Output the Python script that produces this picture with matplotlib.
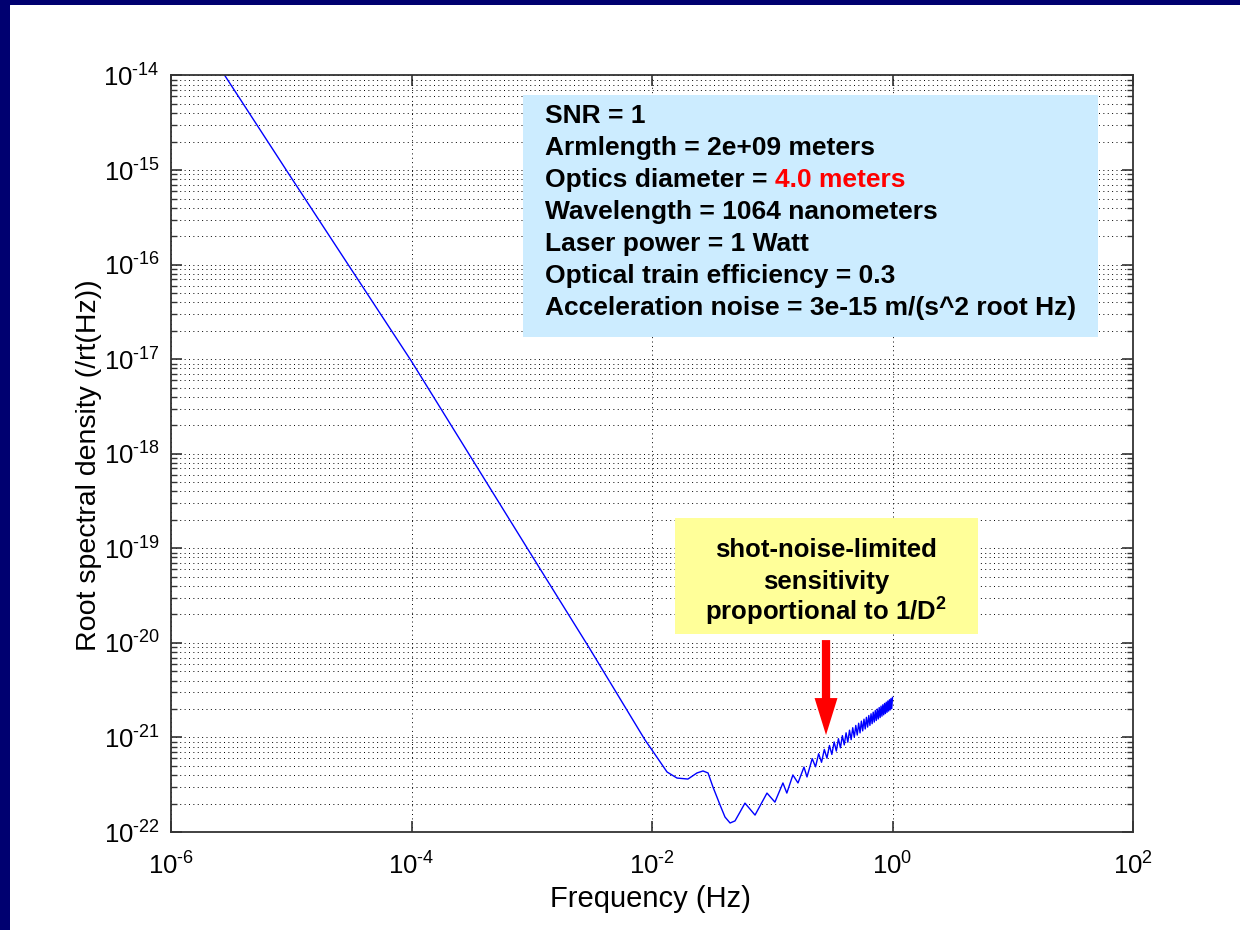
import matplotlib
matplotlib.use("Agg")
import matplotlib.pyplot as plt
from matplotlib.patches import Rectangle
from matplotlib.ticker import LogLocator, NullLocator, FixedLocator, FixedFormatter, NullFormatter

plt.rcParams['font.family'] = ['Liberation Sans', 'DejaVu Sans']
plt.rcParams['mathtext.fontset'] = 'custom'
plt.rcParams['mathtext.rm'] = 'Liberation Sans'
plt.rcParams['mathtext.bf'] = 'Liberation Sans:bold'
plt.rcParams['mathtext.default'] = 'regular'

# ---- data ----
# low-frequency part of the sensitivity curve (Hz, 1/rtHz)
freq_low = [1e-6, 1e-5, 1e-4, 1e-3, 3e-3, 8.75e-3, 1.0e-2, 1.334e-2, 1.614e-2,
            1.99e-2, 2.366e-2, 2.655e-2, 2.924e-2, 3.214e-2, 3.681e-2, 4.046e-2,
            4.46e-2, 4.90e-2, 5.40e-2, 5.93e-2, 7.19e-2, 9.04e-2, 1.052e-1,
            1.227e-1, 1.322e-1, 1.485e-1, 1.637e-1, 1.836e-1, 1.945e-1]
asd_low = [7.5e-14, 8.3e-16, 9.5e-18, 8.4e-20, 8.9e-21, 9.4e-22, 7.36e-22, 4.31e-22, 3.72e-22,
           3.63e-22, 4.21e-22, 4.42e-22, 4.21e-22, 2.99e-22, 1.93e-22, 1.44e-22,
           1.245e-22, 1.31e-22, 1.63e-22, 2.02e-22, 1.51e-22, 2.58e-22, 2.07e-22,
           3.30e-22, 2.58e-22, 4.01e-22, 3.30e-22, 4.86e-22, 3.82e-22]

# dense ripple above 0.2 Hz: peaks and troughs
peak_freq = [0.215, 0.243, 0.271, 0.299, 0.327, 0.355, 0.383, 0.411, 0.439, 0.467,
             0.495, 0.523, 0.551, 0.579, 0.607, 0.635, 0.663, 0.691, 0.719, 0.747,
             0.775, 0.803, 0.831, 0.859, 0.887, 0.915, 0.943, 0.971, 1.0]
peak_asd = [5.97e-22, 6.72e-22, 7.46e-22, 8.22e-22, 8.96e-22, 9.70e-22, 1.045e-21, 1.119e-21,
            1.193e-21, 1.267e-21, 1.340e-21, 1.413e-21, 1.487e-21, 1.560e-21, 1.633e-21,
            1.706e-21, 1.778e-21, 1.851e-21, 1.924e-21, 1.997e-21, 2.070e-21, 2.144e-21,
            2.216e-21, 2.288e-21, 2.360e-21, 2.431e-21, 2.503e-21, 2.576e-21, 2.65e-21]
trough_freq = [0.229, 0.257, 0.285, 0.313, 0.341, 0.369, 0.397, 0.425, 0.453, 0.481,
               0.509, 0.537, 0.565, 0.593, 0.621, 0.649, 0.677, 0.705, 0.733, 0.761,
               0.789, 0.817, 0.845, 0.873, 0.901, 0.929, 0.957, 0.985]
trough_asd = [4.89e-22, 5.46e-22, 6.04e-22, 6.61e-22, 7.18e-22, 7.76e-22, 8.33e-22, 8.90e-22,
              9.47e-22, 1.004e-21, 1.060e-21, 1.117e-21, 1.173e-21, 1.229e-21, 1.286e-21,
              1.341e-21, 1.397e-21, 1.453e-21, 1.510e-21, 1.566e-21, 1.622e-21, 1.679e-21,
              1.734e-21, 1.789e-21, 1.845e-21, 1.900e-21, 1.955e-21, 2.012e-21]

xtick_vals = [1e-6, 1e-4, 1e-2, 1e0, 1e2]
xtick_exps = ['-6', '-4', '-2', '0', '2']
ytick_vals = [1e-22, 1e-21, 1e-20, 1e-19, 1e-18, 1e-17, 1e-16, 1e-15, 1e-14]
ytick_exps = ['-22', '-21', '-20', '-19', '-18', '-17', '-16', '-15', '-14']

info_lines = ["SNR = 1", "Armlength = 2e+09 meters", "Optics diameter =",
              "Wavelength = 1064 nanometers", "Laser power = 1 Watt",
              "Optical train efficiency = 0.3",
              "Acceleration noise = 3e-15 m/(s^2 root Hz)"]
info_red = "4.0 meters"
note_lines = ["shot-noise-limited", "sensitivity",
              "proportional to 1/D$^{\\mathbf{2}}$"]

# merge the ripple points in frequency order
hi = sorted(zip(peak_freq + trough_freq, peak_asd + trough_asd))
freq = freq_low + [p[0] for p in hi]
asd = asd_low + [p[1] for p in hi]


def pow_label(e):
    # MATLAB style: plain hyphen in the exponent
    return '$10^{\\text{' + e + '}}$'


fig = plt.figure(figsize=(12.4, 9.3), dpi=100, facecolor='#000070')
bg = fig.add_axes([10 / 1240, 0, 1230 / 1240, 925 / 930])
bg.set_axis_off()
bg.add_patch(Rectangle((0, 0), 1, 1, color='white', transform=bg.transAxes))

ax = fig.add_axes([171 / 1240, 98 / 930, 962 / 1240, 756.5 / 930])
ax.plot(freq, asd, color='#0000ff', lw=1.0)
ax.set_xscale('log')
ax.set_yscale('log')
ax.set_xlim(1e-6, 1e2)
ax.set_ylim(1e-22, 1e-14)

ax.xaxis.set_major_locator(FixedLocator(xtick_vals))
ax.xaxis.set_major_formatter(FixedFormatter([pow_label(e) for e in xtick_exps]))
ax.xaxis.set_minor_locator(NullLocator())
ax.yaxis.set_major_locator(FixedLocator(ytick_vals))
ax.yaxis.set_major_formatter(FixedFormatter([pow_label(e) for e in ytick_exps]))
ax.yaxis.set_minor_locator(LogLocator(base=10, subs=range(2, 10), numticks=50))
ax.yaxis.set_minor_formatter(NullFormatter())

ax.grid(which='major', axis='both', color='k', ls=(0, (1, 3.5)), lw=0.7)
ax.grid(which='minor', axis='y', color='k', ls=(0, (1, 3.5)), lw=0.7)
ax.tick_params(which='both', direction='in', top=True, right=True, colors='#333333',
               labelcolor='k', labelsize=18.5)
ax.tick_params(which='major', length=8, width=1.2, pad=8)
ax.tick_params(axis='x', which='major', pad=15)
ax.tick_params(which='minor', length=4, width=1)
for s in ax.spines.values():
    s.set_color('#333333')
    s.set_linewidth(1.3)

ax.set_xlabel('Frequency (Hz)', fontsize=21)
ax.xaxis.set_label_coords(0.498, -0.07)
ax.set_ylabel('Root spectral density (/rt(Hz))', fontsize=20.5)
ax.yaxis.set_label_coords(-0.072, 0.485)

# parameter box
ax.add_patch(Rectangle((0.366, 0.654), 0.598, 0.32, transform=ax.transAxes,
                       facecolor='#ccecff', edgecolor='none', zorder=3))
y0 = 0.9465
for i, line in enumerate(info_lines):
    t = ax.text(0.389, y0 - i * 0.0423, line, transform=ax.transAxes, fontsize=19,
                fontweight='bold', va='center', ha='left', zorder=4)
    if i == 2:
        ax.annotate(info_red, xy=(1, 0.5), xycoords=t, xytext=(5, 0),
                    textcoords='offset points', va='center', ha='left',
                    fontsize=19, fontweight='bold', color='red', zorder=4)

# yellow note and arrow
ax.add_patch(Rectangle((0.524, 0.2617), 0.315, 0.1533, transform=ax.transAxes,
                       facecolor='#ffff99', edgecolor='none', zorder=3))
for i, line in enumerate(note_lines):
    ax.text(0.681, 0.3635 - i * 0.0423, line, transform=ax.transAxes, fontsize=18.5,
            fontweight='bold', ha='center', va='baseline', zorder=4)
ax.annotate('', xy=(0.28, 1.06e-21), xytext=(0.28, 1.07e-20),
            arrowprops=dict(arrowstyle='simple,head_length=1.21,head_width=0.75,tail_width=0.27',
                            color='red', lw=0, mutation_scale=22, shrinkA=0, shrinkB=0),
            zorder=5)

fig.savefig('out.png', dpi=100, facecolor=fig.get_facecolor())
